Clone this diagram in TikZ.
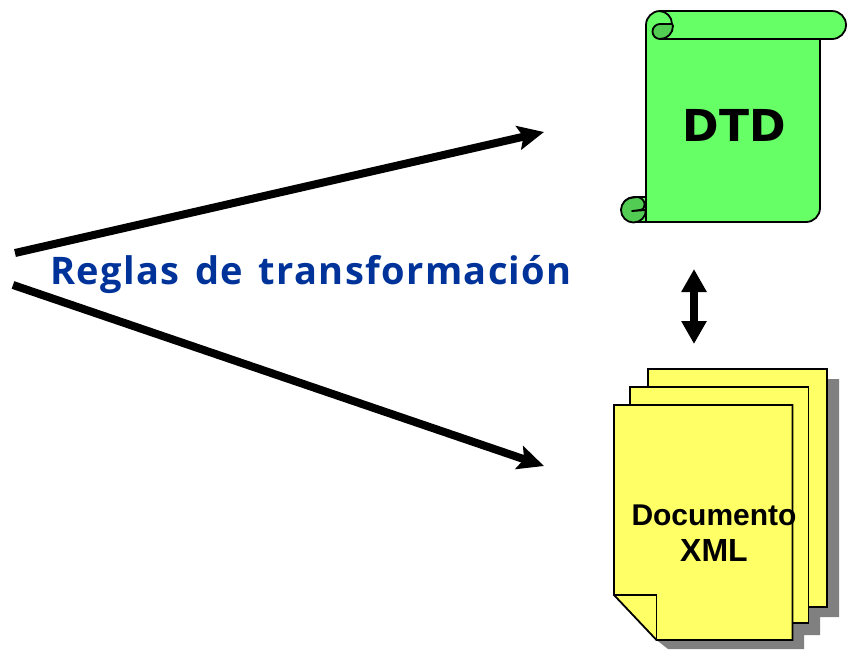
\documentclass[tikz,border=0pt]{standalone}
\usepackage{fontspec}
\setmainfont{Liberation Sans}
\newfontfamily\labelfont[LetterSpace=3.6,WordSpace=1.4]{Open Sans}
\newfontfamily\titlefont{DejaVu Sans}
\usetikzlibrary{arrows.meta}
\definecolor{scrollgreen}{HTML}{66FF66}
\definecolor{curlgreen}{HTML}{52CC52}
\definecolor{pageyellow}{HTML}{FFFF66}
\definecolor{labelblue}{HTML}{003399}
\definecolor{pageshadow}{HTML}{808080}
\tikzset{
  rule/.style={line width=8pt,-{Stealth[length=26pt,width=24pt,inset=5pt]}},
  link/.style={line width=8pt,{Triangle[length=23pt,width=24pt]}-{Triangle[length=23pt,width=24pt]}},
  outline/.style={draw=black,line width=1.8pt,line join=round},
  page/.style={outline,fill=pageyellow,line join=miter}
}
\begin{document}
\begin{tikzpicture}[x=1pt,y=-1pt]
  \useasboundingbox (0,0) rectangle (848,649);
  \coordinate (ruleA) at (15,253);
  \coordinate (ruleB) at (13,285);
  \coordinate (dtdIn) at (544,132);
  \coordinate (xmlIn) at (544,466);
  \coordinate (linkTop) at (694,269);
  \coordinate (linkBot) at (694,344);
  \draw[rule] (ruleA) -- (dtdIn);
  \draw[rule] (ruleB) -- (xmlIn);
  \draw[link] (linkTop) -- (linkBot);
  \node[text=labelblue,font=\labelfont\bfseries\fontsize{38}{38}\selectfont] (rules) at (311,274) {Reglas de transformación};

  \draw[outline,fill=scrollgreen] (660,11) -- (832,11) arc (-90:90:14) -- (820,39) -- (820,208)
    arc (0:90:14) -- (634,222) arc (90:270:12.5) -- (646,197) -- (646,25) arc (180:270:14) -- cycle;
  \draw[outline,fill=curlgreen] (672,24) -- (660,24) arc (270:90:7.5) arc (90:0:13) -- cycle;
  \draw[outline] (659,11) arc (-90:0:13) (659,39) -- (820,39);
  \draw[outline,fill=curlgreen] (646,210) arc (0:90:12.5) arc (90:270:12.5) -- (638,197)
    .. controls (646,199) and (647,209) .. (640,210) -- (632,211) -- cycle;
  \draw[outline] (646,197) -- (646,222);
  \node[font=\titlefont\bfseries\fontsize{44}{44}\selectfont] (dtd) at (734.5,125) {DTD};

  \fill[pageshadow] (827,379) -- (839,379) -- (839,617) -- (820,617) -- (820,635) -- (804,635)
    -- (804,649) -- (668,649) -- (656.5,640) -- (792.5,420) -- cycle;
  \draw[page] (648,387) -- (648,369) -- (827,369) -- (827,607) -- (808.5,607);
  \draw[page] (630,405) -- (630,387) -- (808.5,387) -- (808.5,623) -- (792.5,623);
  \draw[page] (614,405) -- (792.5,405) -- (792.5,640) -- (656.5,640) -- (614,595) -- cycle;
  \draw[outline,line join=miter] (614,595) -- (656.5,595) -- (656.5,640);
  \node[font=\bfseries\fontsize{30}{36}\selectfont,align=center] (xml) at (714,533) {Documento\\{\fontsize{32}{36}\selectfont XML}};
\end{tikzpicture}
\end{document}
